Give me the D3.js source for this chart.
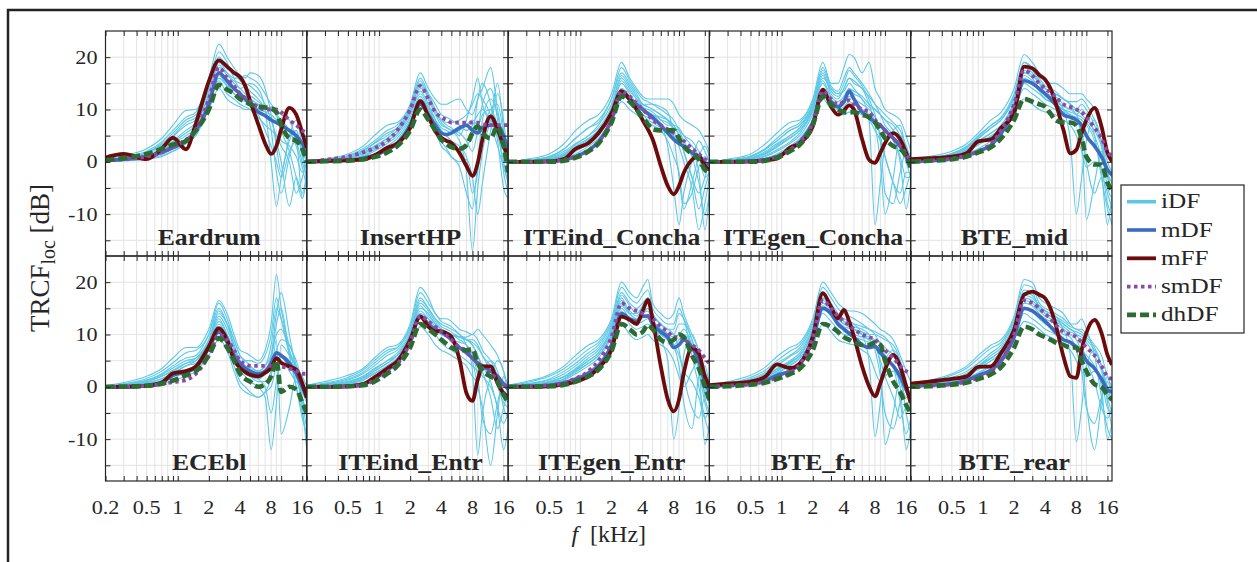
<!DOCTYPE html>
<html>
<head>
<meta charset="utf-8">
<script src="https://cdn.jsdelivr.net/npm/d3@7"></script>
<style>
  body { margin: 0; background: #fff; }
  svg { display: block; }
  text { font-family: "Liberation Serif", "Times New Roman", serif; fill: #262626; }
</style>
</head>
<body>
<svg id="chart" width="1257" height="562"></svg>
<script>
// frequency grid (kHz) shared by every curve
const freqs = [0.2, 0.3, 0.5, 0.7, 0.9, 1.2, 1.5, 2, 2.5, 3, 3.5, 4, 4.5, 5, 6, 7, 8, 9, 10, 12, 14, 16, 17.7];

const panelNames = ["Eardrum", "InsertHP", "ITEind_Concha", "ITEgen_Concha", "BTE_mid",
                    "ECEbl", "ITEind_Entr", "ITEgen_Entr", "BTE_fr", "BTE_rear"];

const seriesNames = ["iDF", "mDF", "mFF", "smDF", "dhDF"];

const xTickValues = [0.2, 0.5, 1, 2, 4, 8, 16];
const xTickLabels = ["0.2", "0.5", "1", "2", "4", "8", "16"];
const xMinorTicks = [0.3, 0.4, 0.5, 0.6, 0.7, 0.8, 0.9, 1, 2, 3, 4, 5, 6, 7, 8, 9, 10, 16];
const yTickValues = [-10, 0, 10, 20];
const yMinorTicks = [-15, -10, -5, 0, 5, 10, 15, 20];

// mean curves, one row per panel
const mDF = [
  [0.2, 0.5, 1, 1.8, 2.7, 4, 6, 11, 17, 15.5, 14, 13, 12, 11, 9.5, 8.8, 8, 7.5, 7, 6, 5, 3.5, 2],
  [0, 0.1, 0.3, 0.7, 1.2, 2.3, 3.5, 7, 11, 9, 7, 5.5, 5.2, 5.5, 6.5, 7, 6, 5.5, 6.5, 7, 7, 5, 2],
  [0, 0, 0.1, 0.4, 1, 2.2, 3.8, 8, 13, 12, 11, 10, 9.2, 8.5, 7, 5.5, 4.3, 3.5, 3, 1.7, 1.1, -0.2, -0.5],
  [0, 0, 0.1, 0.4, 1, 2.3, 3.8, 7.5, 13, 11.5, 10.5, 11.5, 13.5, 12, 9.5, 8.5, 7.5, 7, 6, 4.5, 3, 1, -1],
  [0, 0.2, 0.6, 1.2, 2, 3.2, 5.5, 10, 15.5, 15, 14, 13, 12, 11, 9, 8.5, 8, 7, 5, 3, 1, -1.5, -2.5],
  [0, 0, 0.2, 0.8, 2.2, 2.8, 3.7, 7.5, 10.5, 8.5, 6, 4.5, 3.5, 3, 2.5, 3, 4.5, 6.5, 6, 4.5, 2.5, 0, -2],
  [0, 0, 0.1, 0.5, 1.5, 3.2, 4.7, 8.8, 13.5, 12, 11, 10.5, 9.8, 9, 7.5, 6.5, 5.5, 4.5, 4, 3, 2, 0.5, -0.5],
  [0, 0.1, 0.3, 0.8, 1.5, 2.6, 4, 8, 14, 13, 12.5, 13.5, 13.5, 12, 10.5, 9.5, 7.5, 8, 9, 7.5, 5, 1, -1],
  [0.1, 0.3, 0.6, 1.2, 2.2, 3, 4.5, 9, 15, 14, 12, 11, 10.2, 9.5, 8, 7.5, 7.7, 6.5, 5.5, 4, 2, -0.5, -2.5],
  [0.1, 0.3, 0.6, 1.2, 2.2, 3.2, 5, 9.5, 15, 14.5, 13.5, 12.5, 11.5, 10.5, 9, 8.5, 7.5, 6.5, 5, 3.5, 1.5, -0.5, -1]
];

const mFF = [
  [0.8, 1.5, 0.5, 2.5, 4.6, 2.4, 7.4, 15.4, 19.4, 18.2, 17, 16.2, 14.5, 11.7, 7.2, 3.5, 1.5, 3, 6.2, 10.3, 9, 5.5, 2.7],
  [0, 0.2, 0.3, 0.4, 1.2, 2.7, 3.5, 6.5, 11.6, 8.7, 5.8, 4.6, 4, 3.6, 1.7, -0.8, -2.7, -0.2, 4.3, 8.7, 6.2, 3, 1.1],
  [0, 0, 0.1, 0.6, 2.5, 3.6, 5.5, 9.3, 13.5, 11.9, 10, 8, 6.2, 4.3, -0.8, -4.6, -6.2, -4.6, -2.1, 0.4, 1.1, -0.8, -1.5],
  [0, 0, 0.1, 0.3, 0.6, 2.7, 3.6, 6.8, 13.8, 10.6, 9, 9.8, 10.8, 10, 4.3, 0.4, -0.2, 1.7, 3.6, 5.5, 4.3, 1.7, -0.5],
  [0.5, 0.7, 1, 1.7, 3.9, 4.3, 6.5, 9.3, 18.2, 17.9, 16.6, 15.7, 14, 11.5, 6.1, 1.6, 2.3, 5.5, 8, 10.3, 6.8, 1.7, 0.1],
  [0, 0, 0.2, 0.8, 2.6, 3, 3.9, 7.7, 11.2, 9, 5.2, 3.6, 2.8, 2.3, 2, 2.7, 3.6, 5.5, 4.6, 3.9, 3.3, 0.7, -2.1],
  [0, 0, 0.1, 0.5, 1.8, 3.5, 4.9, 9, 13.4, 11.5, 10.6, 10.6, 10.2, 9.6, 5.2, -1.2, -2.7, 1.4, 3.9, 3.9, 0.7, -1.2, -1.8],
  [0, 0, 0.1, 0.5, 1, 2, 3.6, 7.1, 13.4, 12.8, 12, 14.5, 16.6, 12.8, 3.9, -2.4, -4.7, -2.4, 2.6, 7.4, 6.4, 2, 0.1],
  [0.3, 0.6, 1, 2, 4.3, 3.6, 4.5, 9.6, 17.9, 15.3, 13.1, 14.7, 12.5, 9.6, 3.9, 0.1, -1.8, 0.7, 3.3, 6.1, 3.9, 0.1, -3.1],
  [0.6, 1, 1.5, 2, 3.8, 3.9, 6.5, 10.9, 17.6, 18.2, 17.6, 16.9, 15, 12.2, 5.8, 2, 1.7, 7.1, 10.3, 12.8, 10.3, 6.1, 4.2]
];

const smDF = [
  [0.2, 0.5, 1, 1.8, 2.8, 4.2, 6.2, 12, 18, 16, 14.5, 13, 12.2, 11.5, 10.5, 10, 10, 10, 9.5, 8, 7, 6, 5.5],
  [0, 0.4, 1, 1.8, 2.6, 4, 6, 10, 14.5, 12, 9.5, 8.5, 8, 7.5, 7.5, 7.5, 7.5, 7.5, 7.2, 7, 7, 7, 7],
  [0, 0, 0.1, 0.4, 1, 2.2, 3.8, 8, 13.5, 12.5, 11.2, 10, 9, 8, 7, 6.2, 5.5, 4.8, 4, 2.5, 1.5, 0.5, 0],
  [0, 0, 0.1, 0.4, 1, 2.3, 3.8, 7.5, 13.5, 12, 11, 11.5, 11.8, 11, 10, 9.5, 8, 7, 6, 4.5, 3, 1.5, 0],
  [0, 0.2, 0.6, 1.2, 2, 3.5, 6, 11, 17.5, 16.5, 15, 14, 13.2, 12.5, 11, 10.5, 10, 9.5, 8.5, 6.5, 4.5, 2, 1],
  [0, 0, 0.2, 0.5, 0.9, 1.3, 2.5, 6, 10, 9, 7, 5, 4.4, 4, 4, 4, 4, 3.8, 3.8, 3.5, 3, 2.5, 2.5],
  [0, 0, 0.1, 0.4, 1.2, 2.8, 4.3, 8.5, 13.5, 12.5, 11.5, 10.5, 9.8, 9, 7.5, 7, 5.5, 4.5, 3.5, 2.5, 1.5, 0.5, 0],
  [0, 0.1, 0.3, 0.8, 1.6, 3, 5, 9.5, 16, 15, 14.5, 14, 13.5, 13, 11.5, 10.5, 9.5, 9.5, 9, 8, 7, 5.5, 4.5],
  [0, 0.2, 0.5, 1, 1.7, 2.7, 4.3, 9.5, 16.5, 15, 13.5, 12.5, 11.8, 11, 10, 9.5, 9, 8, 7, 5.5, 4, 3, 2.5],
  [0, 0.2, 0.5, 1, 1.8, 3, 5, 10, 16.5, 16, 15, 14, 13, 12, 10.5, 10, 9.5, 8.5, 7.5, 6, 4, 2, 1.5]
];

const dhDF = [
  [0.3, 0.7, 1.5, 2.5, 3.3, 4, 6, 10, 14.7, 13.8, 13, 12, 11.5, 11, 10.6, 10.4, 10.2, 9.5, 7, 4.5, 4, 2.5, 0],
  [0, 0.1, 0.2, 0.5, 0.9, 1.8, 3, 6, 10, 8, 6, 4.2, 3.4, 2.8, 2.5, 3.2, 5.5, 6.8, 5.5, 4.5, 6.8, 3, -2],
  [0, 0, 0, 0.2, 0.8, 2, 3.5, 7.5, 12.5, 11.5, 10, 8.5, 7.2, 6.2, 6, 6, 6, 4.5, 3, 1.5, 0.5, -1.5, -2],
  [0, 0, 0, 0.2, 0.8, 2, 3.3, 7, 12.5, 11, 10, 9.5, 9.5, 9.5, 9, 8.5, 7.5, 6, 4.5, 3, 2.5, 1, -1],
  [0, 0.2, 0.5, 1, 1.8, 2.8, 4.5, 8, 12, 11.5, 11, 10.5, 9.2, 8, 7.5, 7.5, 7, 4.5, 1, -0.5, -0.5, -4, -5.5],
  [0, 0.05, 0.2, 0.6, 1.2, 2.2, 3, 6, 9.3, 7.5, 5, 2.5, 1.5, 1, 0, 0.5, 2, 5, -1, 0, -0.5, -3, -5],
  [0, 0, 0.1, 0.3, 1, 2.5, 4, 7.5, 12, 11, 10, 9, 8.2, 7.5, 7, 7, 7.2, 4.5, 3, 2, 1, -1.5, -3],
  [0, 0, 0.1, 0.4, 1, 2, 3.3, 6.8, 12, 11, 10, 10.5, 11.8, 11, 9, 8.5, 9, 10, 9.5, 6, 3.5, 0, -2.5],
  [0, 0.1, 0.4, 0.8, 1.5, 2.4, 3.5, 7, 12, 11.5, 10.5, 9.5, 9, 8.5, 8, 8, 8.5, 8, 5, 1, -1, -3.5, -5],
  [0, 0.1, 0.4, 0.8, 1.5, 2.4, 3.8, 7.5, 11.5, 11, 10, 9.5, 9, 8.5, 8, 7.5, 7.5, 5, 3, 0.5, 0, -1.5, -2.5]
];

// individual curves, a set per panel
const iDF = [
  [ // Eardrum
    [0.5, 1.2, 2.5, 4.5, 7, 9.8, 10, 16, 22.5, 20, 18, 16.5, 16, 17, 16.5, 14, 9, 3, -2, 5, 8, 3, 0],
    [0.3, 0.8, 1.8, 3.5, 5.5, 8, 9, 15, 21, 19, 16, 14, 14.5, 15, 14, 10, 0, -8.5, -3, 4, 6, 1, -1],
    [0.2, 0.5, 1.2, 2.5, 4, 6, 7.5, 13, 19, 17, 15, 14, 13, 12, 10, 9, 8, 4, 0, -8.5, -3, -6, -2],
    [0.1, 0.4, 1, 2, 3.5, 5, 6.5, 12, 17, 15, 13, 12, 11.5, 11, 9, 6, 3, 0, -3, 2, 4, -7, -3],
    [0, 0.3, 0.8, 1.5, 2.5, 4, 6, 11, 15.5, 13, 12, 11, 10.5, 10, 8.5, 7, 6, 5, 4, 3, 1, -2, 0],
    [0.1, 0.2, 0.6, 1.2, 2, 3.5, 5.5, 10, 14, 12, 11, 10.5, 10, 10, 10, 9.5, 9, 8, 7, 5, 6, 2, 0],
    [0, 0.2, 0.5, 1, 2, 3.5, 5, 10.5, 16, 14.5, 14, 13, 12.5, 12, 11, 10, 10.5, 9, 6, 2, -3, -7, -2],
    [0.3, 0.9, 2, 3.8, 6, 8.5, 9.5, 15, 20, 18, 17, 15.5, 15, 14.5, 13, 11, 8, 5, 3, 0, -6, -3, 0],
    [0.2, 0.6, 1.5, 3, 4.8, 7, 8, 14, 18.5, 16.5, 15.5, 15, 14.5, 13.5, 12, 10, 6, -2, -6, 1, 5, 2, -4],
    [0.1, 0.4, 1.1, 2.2, 3.8, 5.5, 7, 12.5, 16.5, 14.5, 13, 12.5, 12.5, 12.5, 11.5, 10.5, 10, 9, 8, 6, 3, -1, -5],
    [0.2, 0.7, 1.7, 3.2, 5, 7.5, 8.5, 13.5, 18, 17, 16, 16, 16.5, 16, 15, 13, 11, 10, 9, 8, 4, 0, -3]
  ],
  [ // InsertHP
    [0, 0.5, 1.5, 3, 5, 7, 7.5, 11, 17, 14, 12, 11, 11, 11.5, 12, 10, 9, 12, 14, 18, 10, 4, 0],
    [0, 0.3, 1, 2, 3.5, 5, 6.5, 10, 15, 12, 9, 7, 6.5, 6, 4, -2, -17, -5, 2, 8, 15, 6, -3],
    [0, 0.2, 0.6, 1.2, 2.3, 4, 5.5, 9, 13.5, 11, 8, 5, 4, 3, 2, 3, 5, 12, 15, 11, 4, -5, -7],
    [0, 0.1, 0.4, 0.8, 1.5, 3, 4.5, 8, 12, 9, 6, 3, 2, 1, 0, 0.5, -3, -10, -4, 6, 13, 8, 0],
    [0, 0.2, 0.8, 1.8, 3, 4.5, 6, 10, 14, 13, 11, 9, 8.5, 8, 7, 6, 7, 9, 10, 8, 6, 2, -1],
    [0, 0.1, 0.3, 0.6, 1.2, 2.5, 4, 7.5, 12, 10, 7, 4, 2.5, 1, -1, -6, -9, 0, 8, 12, 9, 3, -2],
    [0, 0.3, 1.2, 2.5, 4, 6, 7, 10.5, 16, 13, 10, 8, 7, 6.5, 5, 8, 12, 16, 11, 7, 3, -1, -4],
    [0, 0.3, 1, 2.2, 3.6, 5.5, 6.5, 10, 15.5, 12.5, 10, 8, 7.5, 7.5, 8, 9, 11, 13, 12, 9, 5, 0, -4],
    [0, 0.2, 0.7, 1.5, 2.6, 4, 5.5, 9.5, 13, 10.5, 8, 6, 5, 4, 3, 1, -6, -2, 5, 10, 11, 5, -2],
    [0, 0.2, 0.8, 1.6, 2.8, 4.5, 6, 9.5, 14.5, 12, 9.5, 7.5, 6.5, 6, 5.5, 4, 2, 6, 11, 14, 8, -2, -6],
    [0, 0.1, 0.5, 1, 2, 3.5, 5, 8.5, 12.5, 10, 8, 6.5, 6, 5.5, 6, 7, 8, 7, 9, 10, 7, 3, 0]
  ],
  [ // ITEind_Concha
    [0, 0.5, 1.5, 3.5, 6, 8, 9, 13, 19, 16, 14, 12.5, 12, 12, 12, 12, 11, 9, 8, 7, 6, 4, 2],
    [0, 0.3, 1, 2.5, 4.5, 6.5, 7.5, 12, 17, 15, 13, 11, 10.5, 10, 9, 8, 6, 3, 0, -5, -13, -8, -3],
    [0, 0.2, 0.6, 1.5, 3, 4.5, 6, 10, 15, 13, 11, 9, 8.5, 8, 7, 3, -5, -12, -6, 0, 4, 2, 0],
    [0, 0.1, 0.4, 1, 2, 3.5, 5, 9, 13, 11.5, 10, 9, 8, 7.5, 6.5, 6, 5, 4, 3, 2, -2, -13, -6],
    [0, 0.2, 0.8, 2, 3.5, 5, 7, 11, 16, 14, 12, 10.5, 10, 9.5, 8, 7, 7, 6.5, 5, 3, 1, -3, -2],
    [0, 0.1, 0.3, 0.7, 1.5, 3, 4.5, 8, 11.5, 10, 9, 8, 7.5, 7, 6, 4, 1, -2, -8, -6, -1, 1, 0],
    [0, 0.2, 0.5, 1.2, 2.5, 4, 5.5, 9.5, 14, 12.5, 11, 10, 9.5, 9, 8.5, 8, 7, 5, 2, -3, -9, -5, -2],
    [0, 0.3, 1, 2.5, 4.5, 6.5, 8, 12, 18, 15.5, 13.5, 12, 11.5, 11, 10, 9, 8, 6, 4, 1, -4, -10, -6],
    [0, 0.2, 0.7, 1.7, 3.3, 5, 6.5, 10.5, 16.5, 14.5, 12.5, 11, 10.5, 10, 9, 8, 7, 5, 2, -3, -6, -3, 0],
    [0, 0.1, 0.5, 1.2, 2.5, 4, 5.5, 9.5, 14, 12.5, 11, 10, 9.5, 9, 8, 7.5, 6.5, 6, 5, 4, 2, 0, -2],
    [0, 0.2, 0.6, 1.4, 2.8, 4.3, 6, 10, 15.5, 13.5, 12, 11, 11, 11, 10.5, 9.5, 5, -3, -9, -4, 1, 3, 1]
  ],
  [ // ITEgen_Concha
    [0, 0.5, 1.5, 3.5, 5.5, 7.5, 8, 12, 19, 15, 15, 18, 20.5, 20, 17, 19, 14, 12, 10, 9, 8, 5, 2],
    [0, 0.3, 1, 2.5, 4, 6, 7, 11, 17, 13, 12, 14, 16, 15, 14, 11, 7, 0, -10, -3, 5, 3, 0],
    [0, 0.2, 0.6, 1.5, 2.8, 4.5, 6, 10, 15, 12, 11, 12, 14, 13, 12, 8, -12, -4, 3, 6, 7, 2, -1],
    [0, 0.1, 0.4, 1, 2, 3.5, 5, 9, 13.5, 11, 10, 10.5, 11.5, 11, 10, 9, 8, 7, 6, 4, 0, -9, -4],
    [0, 0.2, 0.8, 2, 3.5, 5, 6.5, 10.5, 16, 14, 13, 13.5, 15, 14, 12, 10.5, 10, 9, 8, 7, 5, 2, 0],
    [0, 0.1, 0.3, 0.7, 1.5, 3, 4.5, 8, 12, 10, 9, 9, 9.5, 9.5, 9, 8, 6, 4, 1, -4, -6, -2, -2],
    [0, 0.3, 1.1, 2.6, 4.5, 6.5, 7.5, 11.5, 18, 14.5, 13.5, 16, 18, 17, 15, 13, 11, 9, 7, 5, 1, -3, -3],
    [0, 0.3, 1, 2.4, 4, 6, 7, 11, 17.5, 14, 13, 15, 17.5, 16.5, 14.5, 12, 9, 5, 1, -4, -8, -5, -2],
    [0, 0.2, 0.7, 1.6, 3, 4.6, 6, 10, 15.5, 12.5, 11.5, 12.5, 14, 13.5, 12.5, 11, 10, 9, 8, 6, 4, 0, -3],
    [0, 0.1, 0.5, 1.2, 2.3, 3.8, 5.5, 9.5, 14, 11.5, 10.5, 11, 12.5, 12, 11, 10, 8.5, 4, -6, -8, -2, 2, 0],
    [0, 0.2, 0.7, 1.8, 3.2, 5, 6.5, 10.5, 16.5, 13.5, 12.5, 14, 16, 15.5, 14, 12.5, 11, 10, 9, 7.5, 6, 3, 1]
  ],
  [ // BTE_mid
    [0.3, 1, 2, 3.5, 5.5, 8, 9.5, 14, 20.5, 19, 17, 15.5, 15, 15, 14, 13, 13, 13, 12, 10, 6, 2, 0],
    [0.2, 0.6, 1.5, 2.8, 4.5, 6.5, 8, 12.5, 18, 17, 15, 13, 12.5, 12, 10, 4, -10, -3, 4, 8, 4, -2, -4],
    [0.1, 0.4, 1, 2, 3.5, 5, 6.5, 11, 16, 15, 13.5, 12, 11.5, 11, 10, 9, 8, 5, -11, -4, 2, -1, -3],
    [0, 0.3, 0.8, 1.5, 2.5, 4, 5.5, 9.5, 14, 13, 12, 11, 10.5, 10, 9.5, 9, 8.5, 8, 7, 4, -2, -12, -6],
    [0.1, 0.5, 1.2, 2.4, 4, 5.5, 7, 11.5, 17, 16, 14, 13, 12.8, 12.5, 11, 10, 10, 11, 10, 7, 3, -5, -7],
    [0, 0.2, 0.6, 1.2, 2, 3.5, 5, 9, 12, 11, 10, 9.5, 9.2, 9, 8, 7, 5, 2, -1, 0, -1, -8, -10],
    [0.2, 0.7, 1.6, 3, 5, 7, 8.5, 13, 19, 18, 16, 14.5, 14, 13.5, 12, 11, 9, 10, 9, 5, -3, -9, -12],
    [0.2, 0.7, 1.6, 3, 4.8, 7, 8.5, 12.5, 19, 17.5, 15.5, 14, 13.5, 13, 12, 11, 10, 9, 8, 6, 3, -2, -6],
    [0.1, 0.5, 1.2, 2.3, 3.8, 5.5, 7, 11, 16.5, 15.5, 14, 12.5, 12, 11.5, 10.5, 10, 9, 6, 0, -6, -3, -6, -9],
    [0.1, 0.4, 1, 2, 3.2, 4.8, 6, 10, 15, 14, 13, 12, 11.5, 11, 10, 9.5, 9, 8.5, 7.5, 5, 1, -3, -5],
    [0.2, 0.6, 1.4, 2.7, 4.4, 6.5, 8, 12, 17.5, 16.5, 15, 14, 13.5, 13, 12, 11.5, 11.5, 12, 11, 8, 4, 0, -2]
  ],
  [ // ECEbl
    [0.2, 0.8, 2, 3.5, 5.5, 7.5, 7.5, 11, 16.5, 14, 10, 7, 6.5, 6, 5, 7, 12, 21.5, 15, 8, 5, 1, -2],
    [0.1, 0.5, 1.3, 2.5, 4, 5.5, 6, 10, 15, 12, 8, 5, 4, 3, 2, 3, 6, 14, 18, 10, 3, -2, -5],
    [0, 0.3, 0.8, 1.5, 2.5, 4, 5, 8.5, 13, 10, 6, 3, 2, 1, 0, -2, -12, -3, 8, 6, 4, 2, 0],
    [0, 0.2, 0.5, 1, 2, 3, 4, 7, 11, 8, 4, 1, 0, -1, -2, -1, 2, 9, -9, -4, 2, -1, -3],
    [0.1, 0.4, 1, 2, 3, 4.5, 5.5, 9, 14, 12, 9, 6, 5, 4, 3, 4, 6, 10, 11, 7, 3, -4, -12],
    [0, 0.1, 0.3, 0.6, 1.2, 2, 3, 6, 9, 7, 3, 0, -1, -1.5, -2, -1, 0, 4, 6, 3, 1, 0, -1],
    [0.1, 0.6, 1.6, 3, 4.6, 6.5, 7, 10, 16, 13, 9, 6, 5, 5, 4.5, 6, 10, 17, 13, 6, 0, -6, -9],
    [0.1, 0.5, 1.2, 2.3, 3.6, 5, 5.5, 9, 14.5, 12, 8, 5, 4, 3.5, 3, 4, 8, 15, 13, 7, 2, -3, -8],
    [0, 0.3, 0.8, 1.6, 2.6, 4, 4.5, 8, 12.5, 10, 7, 4, 3, 2, 1, 1, 3, 7, 9, 8, 4, -2, -6],
    [0.1, 0.4, 1, 2, 3.2, 4.5, 5, 8.5, 13.5, 11, 7.5, 4.5, 3.5, 2.5, 1.5, 0, -5, 1, 6, 5, 3, 0, -3],
    [0, 0.2, 0.6, 1.2, 2.2, 3.3, 4, 7.5, 12, 9.5, 6, 3.5, 2.5, 2, 1.5, 2.5, 5, 12, 15, 6, 0, -5, -10]
  ],
  [ // ITEind_Entr
    [0.3, 1, 2.2, 3.5, 5.5, 7.5, 8, 12, 19, 17, 14, 13, 13, 12.5, 11, 10.5, 10, 11, 10, 8, 6, 3, 0],
    [0.2, 0.6, 1.5, 2.8, 4.5, 6.5, 7.5, 11, 17, 15, 13, 12, 11.5, 11, 10, 8, 5, 0, -4, -15, -5, 2, 0],
    [0.1, 0.4, 1, 2, 3.5, 5, 6.5, 10, 15, 14, 12, 11, 10.5, 10, 9, 8, 3, -13, -5, 2, 5, 3, -2],
    [0, 0.2, 0.6, 1.2, 2.5, 4, 5.5, 9, 13, 12, 10, 8.5, 7.5, 7, 6, 5, 4, 3, 2, 0, -4, -12, -8],
    [0.1, 0.3, 0.8, 1.6, 3, 4.5, 6, 9.5, 14, 13, 11.5, 10.5, 10.2, 10, 9.5, 9, 9, 8, 6, 4, 1, -2, -3],
    [0, 0.1, 0.4, 0.8, 1.6, 3, 4.5, 8, 11.5, 10, 8, 7, 6.5, 6, 5, 4, 2, 1, 3, 5, 3, -1, -1],
    [0.2, 0.7, 1.8, 3.2, 5, 7, 7.5, 11.5, 18, 16, 14, 12.5, 12, 11.5, 10, 9, 8, 6, 4, 1, -4, -7, -5],
    [0.2, 0.5, 1.3, 2.5, 4, 6, 7, 10.5, 16.5, 15, 13, 11.5, 11, 10.5, 9.5, 9, 8, 6, 3, -2, -8, -4, -1],
    [0.1, 0.4, 1, 2, 3.3, 5, 6, 9.5, 15.5, 13.5, 12, 11, 10.5, 10, 9.5, 9, 8.5, 7.5, 6, 3, 0, -3, -4],
    [0, 0.2, 0.7, 1.4, 2.6, 4, 5.5, 9, 14.5, 13, 11.5, 10, 9.5, 9, 8.5, 8, 6, 2, -6, -9, -3, 1, -1],
    [0.1, 0.3, 0.9, 1.8, 3, 4.5, 6, 10, 16, 14.5, 12.5, 11, 10.5, 10, 9.5, 9.5, 10, 9, 7, 5, 2, -4, -6]
  ],
  [ // ITEgen_Entr
    [0.3, 1, 2.3, 4, 6, 8, 9, 13, 20, 18, 17, 19, 20.5, 16, 14, 13, 14, 17, 14, 10, 7, 3, 1],
    [0.2, 0.6, 1.5, 3, 4.5, 6.5, 8, 12, 18, 16, 15, 16, 17, 14, 12, 10, 8, 4, -3, -8, 2, 4, 0],
    [0.1, 0.4, 1, 2, 3.5, 5.5, 7, 11, 17, 14, 13, 14, 15, 12, 9, 5, -10, -4, 6, 10, 6, -2, -5],
    [0, 0.2, 0.6, 1.3, 2.5, 4, 5.5, 9.5, 14.5, 12, 11, 11.5, 12, 11, 10, 9, 8, 9, 10, 8, 4, -11, -7],
    [0.1, 0.3, 0.8, 1.6, 3, 4.5, 6, 10, 15.5, 14, 14, 15, 16, 13, 11, 10, 10, 12, 12, 9, 5, 1, -2],
    [0, 0.1, 0.4, 0.8, 1.6, 3, 4.5, 8, 12, 10, 9, 9.5, 10, 9, 8, 7, 5, 2, 0, 3, 5, 0, -3],
    [0.2, 0.8, 2, 3.5, 5.2, 7.2, 8.5, 12.5, 19, 17, 16, 17.5, 18.5, 15, 13, 12, 12, 15, 13, 6, 0, -6, -9],
    [0.2, 0.5, 1.3, 2.5, 4, 6, 7.5, 11.5, 17.5, 15.5, 14, 15.5, 17, 14, 12, 11, 10, 7, 2, -4, -6, -2, -2],
    [0.1, 0.4, 1, 2, 3.3, 5, 6.5, 10.5, 16, 14, 13, 14, 14.5, 12.5, 11, 10, 9.5, 10, 11, 8, 3, -3, -6],
    [0, 0.2, 0.7, 1.5, 2.8, 4.5, 6, 10, 15, 13, 12, 12.5, 13, 11.5, 10, 9, 8, 6, 3, 1, -2, -6, -4],
    [0.1, 0.3, 0.9, 1.9, 3.2, 5, 6.5, 11, 16.5, 14.5, 13.5, 15, 16, 13.5, 12, 11, 11, 14, 13, 9, 4, -1, -3]
  ],
  [ // BTE_fr
    [0.3, 1, 2.2, 3.8, 5.8, 7.5, 8.5, 13, 20, 18, 16, 15, 14.5, 14.5, 14, 13, 12, 11, 10.5, 9, 6, 3, 1],
    [0.2, 0.6, 1.5, 2.8, 4.5, 6, 7.5, 12, 18, 16, 14, 13, 12.5, 12, 10, 5, -9.5, -3, 5, 7, 5, 1, -2],
    [0.1, 0.4, 1, 2, 3.5, 5, 6.5, 11, 16.5, 15, 13, 12, 11.5, 11, 10, 9, 8, 4, -11, -5, 2, -1, -3],
    [0, 0.2, 0.6, 1.3, 2.5, 4, 5.5, 9.5, 14, 12.5, 11, 10, 9.8, 9.5, 9, 8.5, 8, 7, 6, 4, 0, -12, -8],
    [0.1, 0.3, 0.8, 1.6, 3, 4.5, 6, 10.5, 15.5, 14, 12.5, 11.5, 11.2, 11, 10.5, 10, 10, 9.5, 9, 8, 5, 0, -4],
    [0, 0.1, 0.4, 0.8, 1.6, 3, 4.5, 8, 12, 10.5, 9, 8.5, 8.2, 8, 7, 6, 3, 1, 2, 3, 1, -2, -2],
    [0.2, 0.7, 1.8, 3.2, 5, 6.8, 8, 12.5, 19, 17, 15, 14, 13.5, 13, 12, 11, 10, 8, 6, 4, -3, -9, -6],
    [0.2, 0.5, 1.3, 2.5, 4, 5.8, 7, 11.5, 17.5, 15.5, 13.5, 12.5, 12, 11.5, 11, 10, 8, 5, 2, -2, -6, -4, -5],
    [0.1, 0.4, 1, 2, 3.3, 4.8, 6, 10.5, 16, 14.5, 13, 12, 11.5, 11, 10, 9.5, 9, 8.5, 7.5, 6, 3, -1, -4],
    [0, 0.2, 0.7, 1.5, 2.7, 4.2, 5.5, 9.5, 15, 13.5, 12, 11, 10.5, 10, 9.5, 9, 7, 2, -5, -8, -3, 0, -2],
    [0.1, 0.3, 0.9, 1.8, 3, 4.6, 6, 10.5, 17, 15, 13.5, 12.5, 12, 12, 11.5, 11, 10.5, 10, 9.5, 7, 3, -5, -9]
  ],
  [ // BTE_rear
    [0.4, 1.2, 2.5, 4, 6, 8, 9, 13.5, 20.5, 20, 17, 16, 15.5, 15, 14, 12, 11, 11, 10, 8, 6, 2, 0],
    [0.3, 0.8, 1.8, 3, 4.5, 6.5, 8, 12.5, 18.5, 18, 15, 14, 13.5, 13, 11, 6, -10.5, -4, 4, 7, 4, -1, -3],
    [0.2, 0.5, 1.2, 2.2, 3.5, 5, 6.5, 11, 16, 15.5, 14, 13, 12.5, 12, 11, 10, 9, 6, -3, -12, -3, 2, -2],
    [0.1, 0.3, 0.8, 1.5, 2.5, 4, 5.5, 9.5, 14, 13, 12, 11, 10.5, 10, 9, 8.5, 8, 7, 6, 4, 0, -10, -7],
    [0.2, 0.6, 1.4, 2.5, 4, 5.5, 7, 11.5, 17, 16.5, 15, 14, 13.5, 13, 12, 11, 10.5, 10, 9, 7, 4, 0, -3],
    [0, 0.2, 0.5, 1, 2, 3.5, 5, 9, 12.5, 12, 11, 10, 9.5, 9, 8, 7, 5, 3, 2, 3, 1, -4, -5],
    [0.3, 1, 2.2, 3.6, 5.4, 7.4, 8.5, 13, 19.5, 19, 16, 15, 14.5, 14, 13, 12, 12, 13, 11, 6, -2, -8, -10],
    [0.2, 0.6, 1.4, 2.6, 4, 6, 7.5, 12, 18, 17.5, 15.5, 14.5, 14, 13.5, 12, 11, 10, 8, 5, 1, -4, -6, -4],
    [0.1, 0.4, 1, 2, 3.3, 5, 6.5, 11, 16.5, 16, 14.5, 13.5, 13, 12.5, 11.5, 10.5, 10, 9.5, 8.5, 6, 3, -2, -5],
    [0.1, 0.3, 0.8, 1.6, 2.7, 4.2, 5.8, 10, 15, 14.5, 13, 12, 11.5, 11, 10, 9.5, 7, 3, -4, -7, -2, 1, -2],
    [0.2, 0.5, 1.2, 2.3, 3.7, 5.5, 7, 11.5, 17.5, 17, 15.5, 14.5, 14, 13.5, 12.5, 11.5, 11, 10.5, 9.5, 7.5, 4, -3, -8]
  ]
];

const svg = d3.select("#chart");

const plotLeft = 105.5, plotTop = 31, panelW = 201.3, panelH = 225;

const x = d3.scaleLog().domain([0.2, 17.7]).range([0, panelW]);
const y = d3.scaleLinear().domain([-18, 25]).range([panelH, 0]);

const line = d3.line()
  .defined((d, j) => j < freqs.length && d != null)
  .x((d, j) => x(freqs[j]))
  .y(d => y(d))
  .curve(d3.curveMonotoneX);

const meanStyles = [
  { data: mDF, color: "#3b6cbf", width: 3.6, dash: null },
  { data: mFF, color: "#6c0b0b", width: 3.8, dash: null },
  { data: smDF, color: "#9147a8", width: 3.8, dash: "3.5,3.5" },
  { data: dhDF, color: "#2d6b34", width: 4.6, dash: "9,4" }
];
const iDFColor = "#5cc8e5";

// stretched serif text helper
function label(parent, tx, ty, str, size, anchor, weight, sx) {
  return parent.append("text")
    .attr("transform", `translate(${tx},${ty}) scale(${sx || 1.2},1)`)
    .attr("text-anchor", anchor)
    .attr("font-size", size)
    .attr("font-weight", weight || "normal")
    .text(str);
}

// outer frame (cropped figure border)
svg.append("path")
  .attr("d", "M8,562 V10 H1257")
  .attr("fill", "none")
  .attr("stroke", "#222")
  .attr("stroke-width", 2.5);

panelNames.forEach((name, i) => {
  const col = i % 5;
  const row = Math.floor(i / 5);
  const px = plotLeft + col * panelW;
  const py = plotTop + row * panelH;
  const g = svg.append("g").attr("transform", `translate(${px},${py})`);

  g.append("clipPath").attr("id", "clip" + i)
    .append("rect").attr("width", panelW).attr("height", panelH);

  // grid
  g.append("g").selectAll("line").data(xMinorTicks).enter().append("line")
    .attr("x1", d => x(d)).attr("x2", d => x(d))
    .attr("y1", 0).attr("y2", panelH)
    .attr("stroke", "#e3e3e3").attr("stroke-width", 1);
  g.append("g").selectAll("line").data(yMinorTicks).enter().append("line")
    .attr("x1", 0).attr("x2", panelW)
    .attr("y1", d => y(d)).attr("y2", d => y(d))
    .attr("stroke", "#e3e3e3").attr("stroke-width", 1);

  const lines = g.append("g").attr("clip-path", `url(#clip${i})`);

  lines.selectAll(".idf").data(iDF[i]).enter().append("path")
    .attr("class", "idf")
    .attr("d", line)
    .attr("fill", "none")
    .attr("stroke", iDFColor)
    .attr("stroke-width", 1.1);

  meanStyles.forEach(s => {
    lines.append("path")
      .attr("d", line(s.data[i]))
      .attr("fill", "none")
      .attr("stroke", s.color)
      .attr("stroke-width", s.width)
      .attr("stroke-dasharray", s.dash)
      .attr("stroke-linejoin", "round");
  });

  // inward ticks on all four sides
  const allX = [0.2].concat(xMinorTicks);
  [d3.axisBottom(x).tickValues(allX), d3.axisTop(x).tickValues(allX)].forEach((ax, k) => {
    g.append("g")
      .attr("transform", `translate(0,${k === 0 ? panelH : 0})`)
      .call(ax.tickSize(-5).tickFormat(""))
      .call(a => a.select(".domain").remove())
      .selectAll("line").attr("stroke", "#262626");
  });
  [d3.axisLeft(y).tickValues(yMinorTicks), d3.axisRight(y).tickValues(yMinorTicks)].forEach((ax, k) => {
    g.append("g")
      .attr("transform", `translate(${k === 0 ? 0 : panelW},0)`)
      .call(ax.tickSize(-5).tickFormat(""))
      .call(a => a.select(".domain").remove())
      .selectAll("line").attr("stroke", "#262626");
  });

  g.append("rect")
    .attr("width", panelW).attr("height", panelH)
    .attr("fill", "none").attr("stroke", "#262626").attr("stroke-width", 1.2);

  // panel title
  label(g, panelW / 2 + 3, panelH - 11, name, 23, "middle", "bold", 1.12);

  // y tick labels, first column only
  if (col === 0) {
    yTickValues.forEach(v => {
      label(g, -8, y(v) + 6.5, v, 18.5, "end");
    });
  }

  // x tick labels, bottom row only
  if (row === 1) {
    xTickValues.forEach((v, k) => {
      if (col > 0 && k === 0) return;
      label(g, x(v), panelH + 33, xTickLabels[k], 18.5, "middle");
    });
  }
});

// axis titles
const yTitle = svg.append("text")
  .attr("transform", `translate(49,${plotTop + panelH + 2}) rotate(-90)`)
  .attr("text-anchor", "middle")
  .attr("font-size", 27);
yTitle.append("tspan").text("TRCF");
yTitle.append("tspan").attr("font-size", 20).attr("dy", 6).text("loc");
yTitle.append("tspan").attr("dy", -6).text(" [dB]");

const xTitle = svg.append("text")
  .attr("transform", `translate(${plotLeft + panelW * 2.5},542)`)
  .attr("text-anchor", "middle")
  .attr("font-size", 24);
xTitle.append("tspan").attr("font-style", "italic").text("f");
xTitle.append("tspan").text("\u2002[kHz]");

// legend
const legend = svg.append("g").attr("transform", "translate(1121,185)");
legend.append("rect")
  .attr("width", 123).attr("height", 148)
  .attr("fill", "#fff").attr("stroke", "#262626").attr("stroke-width", 1.2);

const legendStyles = [{ color: iDFColor, width: 3.6, dash: null }].concat(meanStyles);
seriesNames.forEach((nm, k) => {
  const ly = 16.7 + k * 28.3;
  legend.append("line")
    .attr("x1", 6).attr("x2", 35)
    .attr("y1", ly).attr("y2", ly)
    .attr("stroke", legendStyles[k].color)
    .attr("stroke-width", legendStyles[k].width)
    .attr("stroke-dasharray", legendStyles[k].dash);
  label(legend, 40, ly + 6.5, nm, 21, "start");
});
</script>
</body>
</html>
